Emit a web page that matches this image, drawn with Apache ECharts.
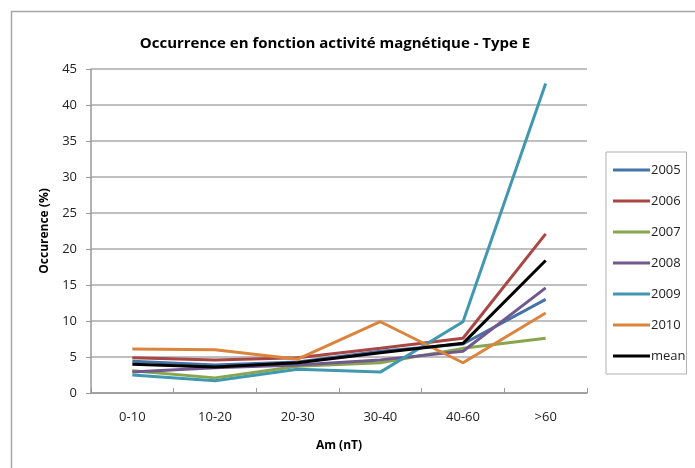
<!DOCTYPE html>
<html><head><meta charset="utf-8">
<script src="https://cdn.jsdelivr.net/npm/echarts@6/dist/echarts.min.js"></script>
<style>html,body{margin:0;padding:0;background:#fff}#c{width:695px;height:468px}</style>
</head><body><div id="c"></div>
<script>
const categories = ['0-10','10-20','20-30','30-40','40-60','>60'];
const yTicks = [0,5,10,15,20,25,30,35,40,45];
const s2005 = [4.4, 3.9, 4.3, 5.8, 6.8, 13.0];
const s2006 = [4.9, 4.6, 4.9, 6.2, 7.6, 22.1];
const s2007 = [3.1, 2.1, 3.7, 4.2, 6.2, 7.6];
const s2008 = [2.9, 3.5, 3.9, 4.6, 5.8, 14.6];
const s2009 = [2.5, 1.7, 3.3, 2.9, 9.9, 43.0];
const s2010 = [6.1, 6.0, 4.7, 9.9, 4.2, 11.1];
const sMean = [4.0, 3.6, 4.2, 5.6, 6.9, 18.4];
const names = ['2005','2006','2007','2008','2009','2010','mean'];
const values = [s2005, s2006, s2007, s2008, s2009, s2010, sMean];
const colors = ['#4572A7','#AA4643','#89A54E','#71588F','#4198AF','#DB843D','#000000'];
const font = 'Open Sans, Liberation Sans, sans-serif';

const chart = echarts.init(document.getElementById('c'), null, {renderer:'canvas'});
chart.setOption({
  animation:false,
  color: colors,
  title:{text:'Occurrence en fonction activité magnétique - Type E', left:330, textAlign:'center', top:31,
    textStyle:{fontFamily:font, fontWeight:'bold', fontSize:15, color:'#000'}},
  graphic:[{type:'rect', shape:{x:11.5,y:11.5,width:700,height:500}, style:{fill:'none', stroke:'#a6a6a6', lineWidth:1.5}, silent:true}],
  legend:{orient:'vertical', left:606, top:152, padding:[9,1,9,7], itemGap:13, itemWidth:37, itemHeight:3,
    icon:'rect',
    borderColor:'#b0b0b0', borderWidth:1, data:names,
    textStyle:{fontFamily:font, fontSize:13, color:'#222', padding:[0,0,0,-4], lineHeight:18}},
  grid:{left:91, right:108, top:69, bottom:75},
  xAxis:{type:'category', data:categories, boundaryGap:true, name:'Am (nT)', nameLocation:'middle', nameGap:47,
    nameTextStyle:{fontFamily:font, fontWeight:'bold', fontSize:12, color:'#000'},
    axisLine:{lineStyle:{color:'#999', width:1.5}},
    axisTick:{show:true, inside:true, length:5, lineStyle:{color:'#999'}, alignWithLabel:false},
    axisLabel:{fontFamily:font, fontSize:13, color:'#222', margin:18}},
  yAxis:{type:'value', min:0, max:45, interval:5, name:'Occurence (%)', nameLocation:'middle', nameGap:40, nameRotate:90,
    nameTextStyle:{fontFamily:font, fontWeight:'bold', fontSize:12, color:'#000'},
    axisLine:{show:true, lineStyle:{color:'#999', width:1.5}},
    axisTick:{show:true, length:5, lineStyle:{color:'#999'}},
    axisLabel:{fontFamily:font, fontSize:13, color:'#222', margin:14},
    splitLine:{lineStyle:{color:'#aaa', width:1.5}}},
  series: names.map((n,i)=>({name:n, type:'line', data:values[i], symbol:'none', showSymbol:false,
    lineStyle:{width:3, color:colors[i]}, itemStyle:{color:colors[i]}, z: i===6?10:2}))
});
</script></body></html>
